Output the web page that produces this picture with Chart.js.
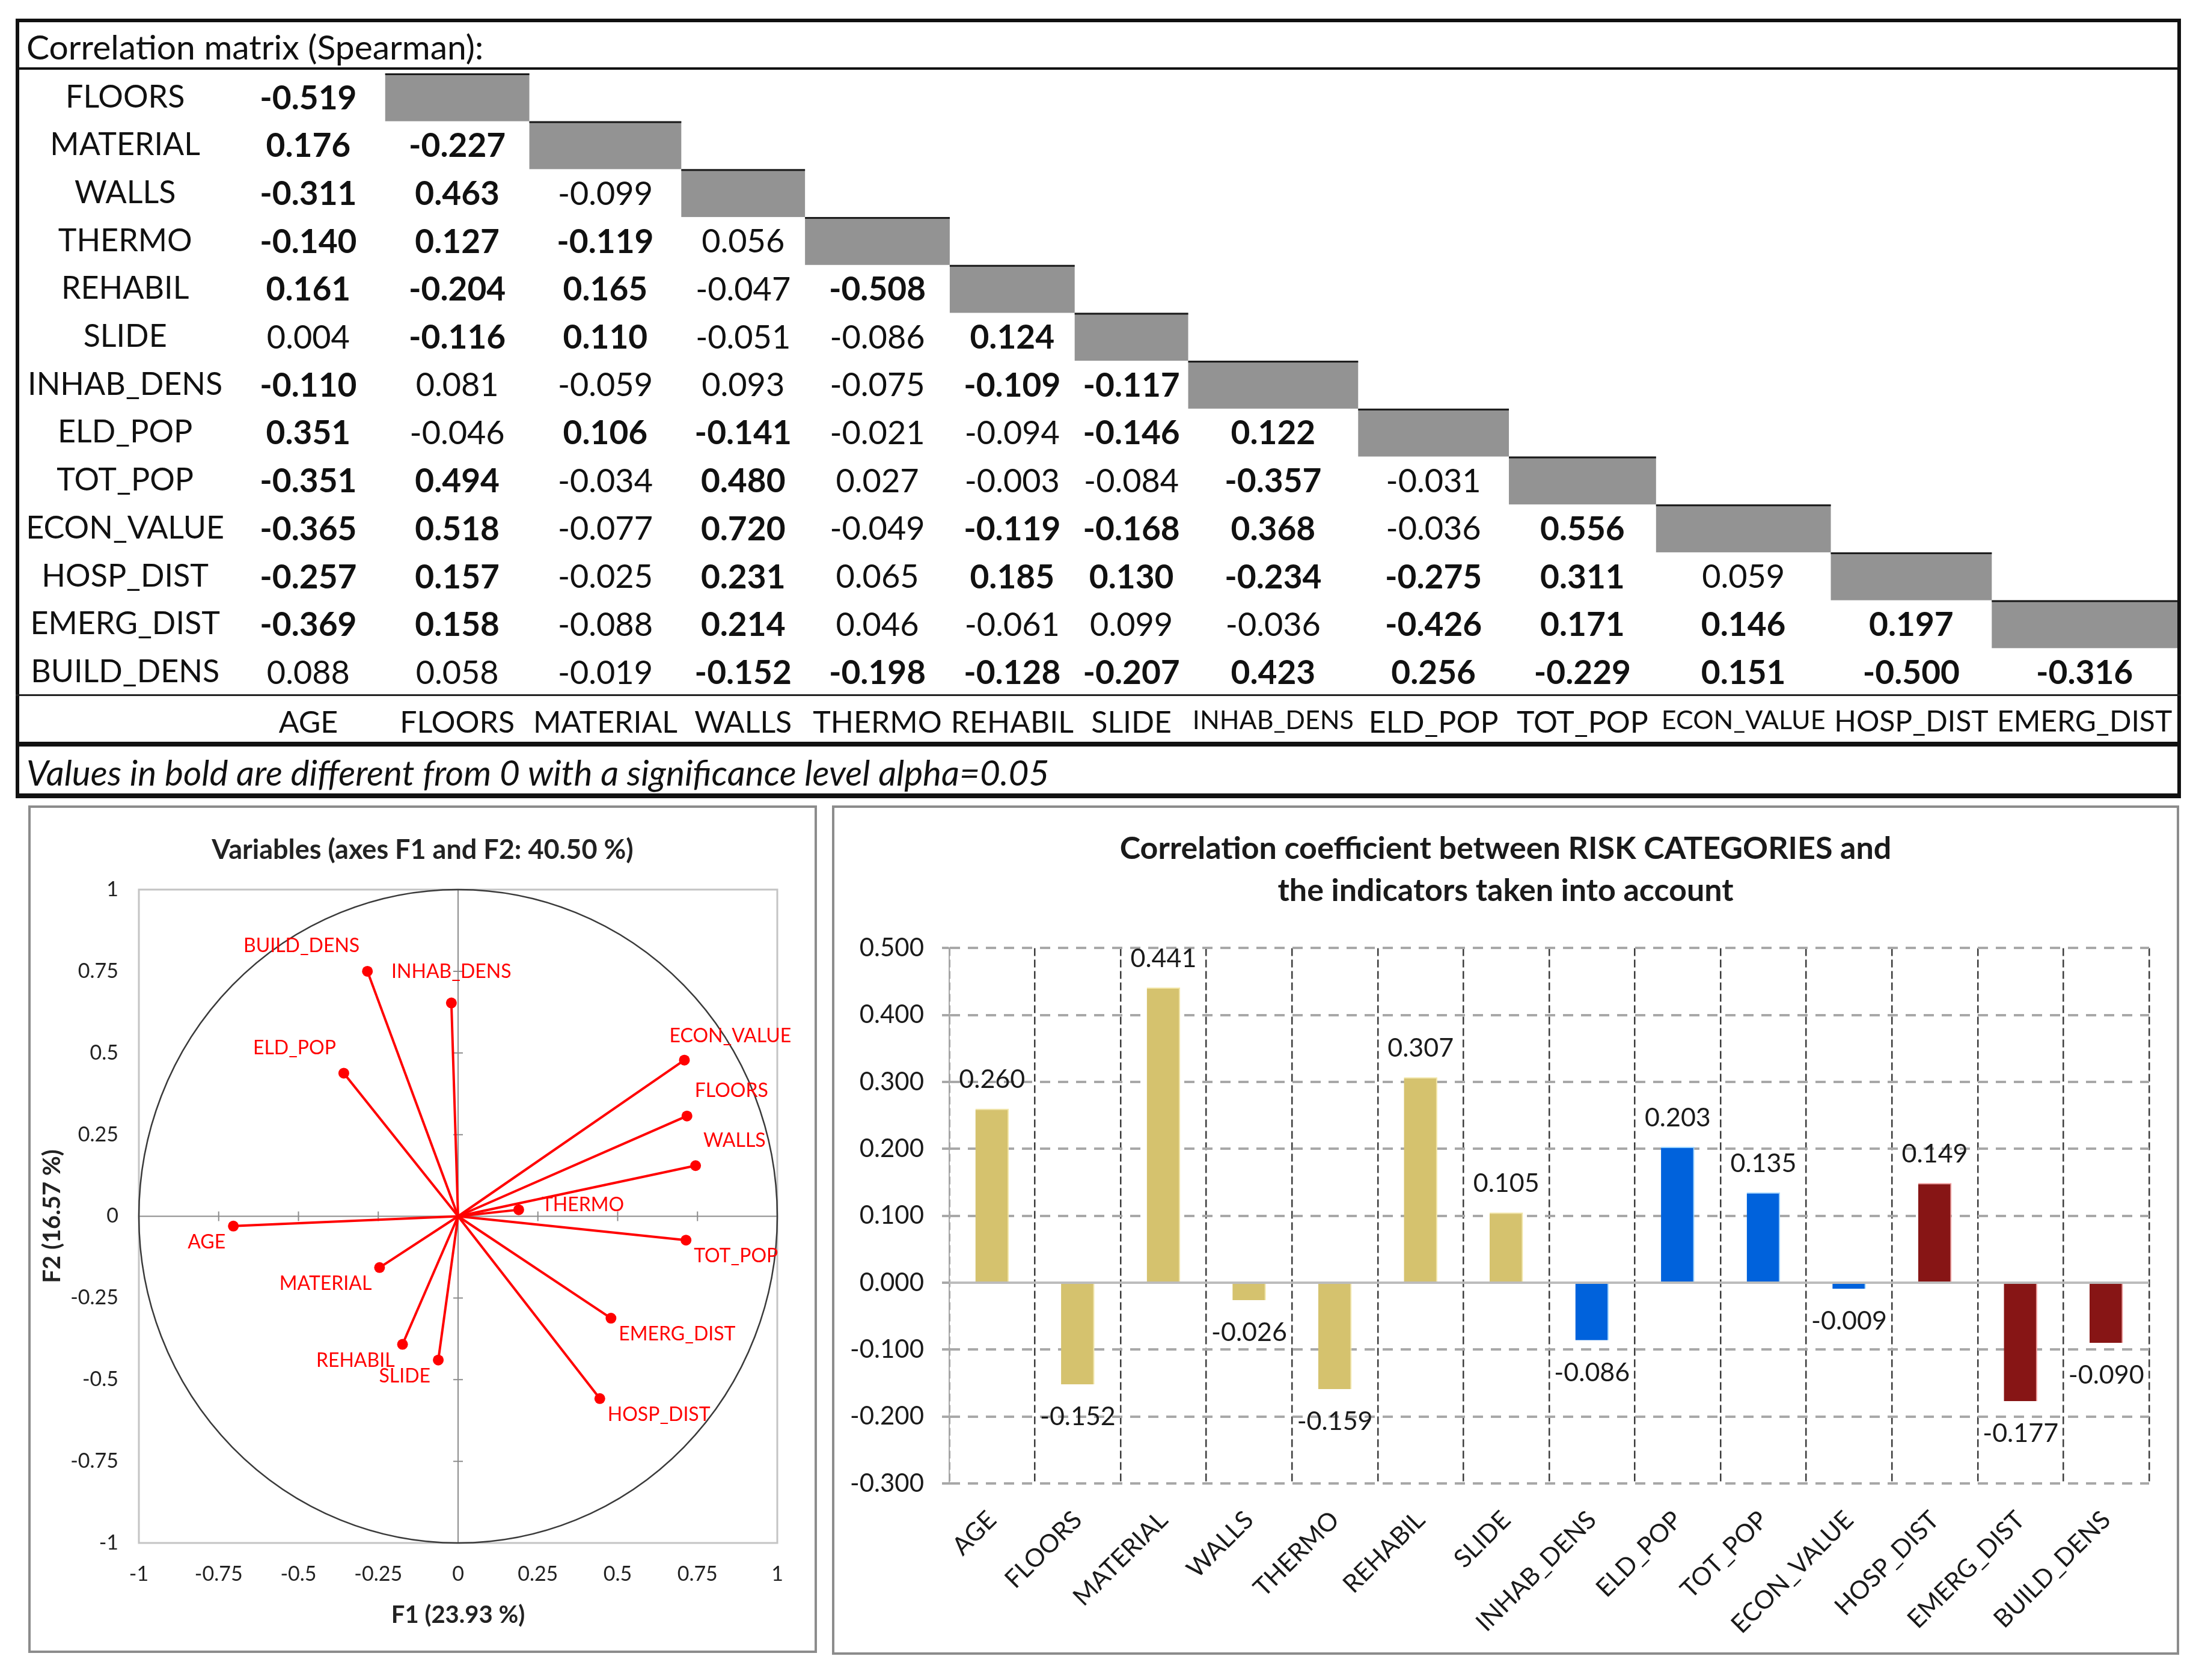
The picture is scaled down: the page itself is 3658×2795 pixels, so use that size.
<!DOCTYPE html>
<html>
<head>
<meta charset="utf-8">
<script src="https://cdn.jsdelivr.net/npm/chart.js@4.4.1/dist/chart.umd.min.js"></script>
<style>
  html, body { margin: 0; padding: 0; background: #fff; }
  body { width: 3658px; height: 2795px; position: relative; overflow: hidden;
         font-family: Lato, "Noto Sans", sans-serif; color: #111; }
  .box { position: absolute; box-sizing: border-box; }
  .bar { position: absolute; background: #111; }
  .txt { position: absolute; font-size: 57px; line-height: 64px; white-space: nowrap; }
  canvas { position: absolute; }
</style>
</head>
<body>

<div class="box" style="left:26px;top:31px;width:3602px;height:1297px;border:6px solid #111;border-bottom-width:8px;"></div>
<div class="bar" style="left:26px;top:112px;width:3602px;height:4px;"></div>
<div class="bar" style="left:26px;top:1155px;width:3602px;height:3px;background:#222;"></div>
<div class="bar" style="left:26px;top:1234px;width:3602px;height:8px;"></div>
<div class="txt" style="left:44px;top:45px;">Correlation matrix (Spearman):</div>
<div class="txt" style="left:44px;top:1252px;font-style:italic;font-size:58.5px;">Values in bold are different from 0 with a significance level alpha=0.05</div>

<div class="box" style="left:47px;top:1340px;width:1312px;height:1410px;border:4px solid #8c8c8c;"></div>
<div class="box" style="left:1384px;top:1340px;width:2241px;height:1413px;border:4px solid #8c8c8c;"></div>

<canvas id="matrix" width="3590" height="1112" style="left:32px;top:122px;"></canvas>
<canvas id="pca" width="1304" height="1402" style="left:51px;top:1344px;"></canvas>
<canvas id="risk" width="2233" height="1405" style="left:1388px;top:1344px;"></canvas>

<script>
// ---- data ----
const varNames = ['AGE', 'FLOORS', 'MATERIAL', 'WALLS', 'THERMO', 'REHABIL', 'SLIDE',
  'INHAB_DENS', 'ELD_POP', 'TOT_POP', 'ECON_VALUE', 'HOSP_DIST', 'EMERG_DIST', 'BUILD_DENS'];
const rowVars = varNames.slice(1);
const colVars = varNames.slice(0, 13);

// lower triangle of the Spearman matrix, one row per rowVars entry
const corrRows = [
  [-0.519],
  [0.176, -0.227],
  [-0.311, 0.463, -0.099],
  [-0.140, 0.127, -0.119, 0.056],
  [0.161, -0.204, 0.165, -0.047, -0.508],
  [0.004, -0.116, 0.110, -0.051, -0.086, 0.124],
  [-0.110, 0.081, -0.059, 0.093, -0.075, -0.109, -0.117],
  [0.351, -0.046, 0.106, -0.141, -0.021, -0.094, -0.146, 0.122],
  [-0.351, 0.494, -0.034, 0.480, 0.027, -0.003, -0.084, -0.357, -0.031],
  [-0.365, 0.518, -0.077, 0.720, -0.049, -0.119, -0.168, 0.368, -0.036, 0.556],
  [-0.257, 0.157, -0.025, 0.231, 0.065, 0.185, 0.130, -0.234, -0.275, 0.311, 0.059],
  [-0.369, 0.158, -0.088, 0.214, 0.046, -0.061, 0.099, -0.036, -0.426, 0.171, 0.146, 0.197],
  [0.088, 0.058, -0.019, -0.152, -0.198, -0.128, -0.207, 0.423, 0.256, -0.229, 0.151, -0.500, -0.316]
];
const sigCut = 0.1; // |r| above this is printed bold

// PCA loadings (F1, F2), same order as varNames
const f1Coords = [-0.704, 0.717, -0.246, 0.744, 0.190, -0.174, -0.062, -0.021, -0.358, 0.714, 0.709, 0.444, 0.479, -0.284];
const f2Coords = [-0.030, 0.307, -0.157, 0.155, 0.020, -0.392, -0.440, 0.653, 0.438, -0.073, 0.478, -0.558, -0.312, 0.750];

// correlation with RISK CATEGORIES, same order as varNames
const riskCorr = [0.260, -0.152, 0.441, -0.026, -0.159, 0.307, 0.105, -0.086, 0.203, 0.135, -0.009, 0.149, -0.177, -0.090];

// ---- style ----
const FONT = 'Lato, "Noto Sans", sans-serif';
const RED = '#ff0000';
const colWidths = [256, 240, 253, 206, 241, 208, 189, 283, 251, 245, 291, 268, 309];
const headSizes = { INHAB_DENS: 43, ECON_VALUE: 43, HOSP_DIST: 48, EMERG_DIST: 48 };
const labelAnchors = ['sw', 'ne', 'sw', 'ne', 'e', 'sw', 'sw', 'n', 'nw', 'se', 'nc', 'se', 'se', 'nw'];
const TAN = '#d5c26e', BLUE = '#0062dc', DRED = '#871515';
const barColors = [TAN, TAN, TAN, TAN, TAN, TAN, TAN, BLUE, BLUE, BLUE, BLUE, DRED, DRED, DRED];
const barEdges = ['#f2e6a6', '#f2e6a6', '#f2e6a6', '#f2e6a6', '#f2e6a6', '#f2e6a6', '#f2e6a6',
  '#9fd6ff', '#9fd6ff', '#9fd6ff', '#9fd6ff', '#f09a9a', '#f09a9a', '#f09a9a'];

Chart.defaults.font.family = FONT;
Chart.defaults.color = '#1a1a1a';

const baseOpts = {
  responsive: false,
  animation: false,
  devicePixelRatio: 1,
  events: []
};

// an empty axis used only as a right-hand margin, so titles stay centred on the panel
const marginAxis = w => ({
  type: 'linear', position: 'right',
  afterFit: s => { s.width = w; s.paddingTop = 0; s.paddingBottom = 0; },
  grid: { display: false, drawTicks: false },
  border: { display: false },
  ticks: { display: false }
});

// ---- correlation matrix ----
const colEdges = [0];
colWidths.forEach(w => colEdges.push(colEdges[colEdges.length - 1] + w));
const colCenters = colWidths.map((w, i) => colEdges[i] + w / 2);

const cellPoints = [];
corrRows.forEach((row, r) => {
  row.forEach((v, c) => cellPoints.push({ x: colCenters[c], y: rowVars[r], v: v }));
});

const matrixPlugin = {
  id: 'matrixCells',
  beforeDatasetsDraw(chart) {
    const { ctx, scales: { x, y } } = chart;
    const band = y.height / rowVars.length;
    ctx.save();
    rowVars.forEach((name, r) => {
      const yc = y.getPixelForValue(r);
      const x1 = x.getPixelForValue(colEdges[r + 1]);
      const x2 = x.getPixelForValue(colEdges[r + 2]);
      ctx.fillStyle = '#939393';
      ctx.fillRect(x1, yc - band / 2, x2 - x1, band);
      ctx.fillStyle = '#1a1a1a';
      ctx.fillRect(x1, yc - band / 2, x2 - x1, 3);
    });
    ctx.restore();
  },
  afterDatasetsDraw(chart) {
    const ctx = chart.ctx;
    const meta = chart.getDatasetMeta(0);
    ctx.save();
    ctx.textAlign = 'center';
    ctx.textBaseline = 'middle';
    ctx.fillStyle = '#111';
    meta.data.forEach((pt, i) => {
      const v = cellPoints[i].v;
      ctx.font = Math.abs(v) > sigCut ? 'bold 55px ' + FONT : '54px ' + FONT;
      ctx.fillText(v.toFixed(3), pt.x, pt.y + 2);
    });
    ctx.restore();
  }
};

new Chart(document.getElementById('matrix'), {
  type: 'scatter',
  data: { datasets: [{ data: cellPoints, pointRadius: 0 }] },
  options: {
    ...baseOpts,
    layout: { padding: 0 },
    plugins: { legend: { display: false }, tooltip: { enabled: false } },
    scales: {
      x: {
        type: 'linear', min: 0, max: colEdges[colEdges.length - 1],
        afterBuildTicks: s => { s.ticks = colCenters.map(v => ({ value: v })); },
        afterFit: s => { s.height = 76; s.paddingLeft = 0; s.paddingRight = 0; },
        grid: { display: false, drawTicks: false },
        border: { display: false },
        ticks: {
          autoSkip: false, maxRotation: 0, minRotation: 0, padding: 15, color: '#111',
          callback: (v, i) => colVars[i],
          font: c => ({ family: FONT, size: headSizes[colVars[c.index]] || 50 })
        }
      },
      y: {
        type: 'category', labels: rowVars, offset: true,
        afterFit: s => { s.width = 353; s.paddingTop = 0; s.paddingBottom = 0; },
        grid: { display: false, drawTicks: false },
        border: { display: false },
        ticks: { crossAlign: 'center', padding: 12, color: '#111', font: { size: 52 } }
      }
    }
  },
  plugins: [matrixPlugin]
});

// ---- PCA correlation circle ----
const pcaFrame = {
  id: 'pcaFrame',
  beforeDatasetsDraw(chart) {
    const { ctx, scales: { x, y } } = chart;
    const x0 = x.getPixelForValue(0), y0 = y.getPixelForValue(0);
    const L = x.getPixelForValue(-1), R = x.getPixelForValue(1);
    const T = y.getPixelForValue(1), B = y.getPixelForValue(-1);
    ctx.save();
    ctx.strokeStyle = '#c4c4c4';
    ctx.lineWidth = 3;
    ctx.strokeRect(L, T, R - L, B - T);
    ctx.strokeStyle = '#8c8c8c';
    ctx.lineWidth = 2;
    ctx.beginPath();
    ctx.moveTo(L, y0); ctx.lineTo(R, y0);
    ctx.moveTo(x0, T); ctx.lineTo(x0, B);
    x.ticks.forEach(t => {
      const px = x.getPixelForValue(t.value);
      ctx.moveTo(px, y0 - 8); ctx.lineTo(px, y0 + 8);
    });
    y.ticks.forEach(t => {
      const py = y.getPixelForValue(t.value);
      ctx.moveTo(x0 - 8, py); ctx.lineTo(x0 + 8, py);
    });
    ctx.stroke();
    ctx.strokeStyle = '#3a3a3a';
    ctx.lineWidth = 2.5;
    ctx.beginPath();
    ctx.ellipse(x0, y0, R - x0, y0 - T, 0, 0, Math.PI * 2);
    ctx.stroke();
    ctx.restore();
  },
  afterDatasetsDraw(chart) {
    const ctx = chart.ctx;
    ctx.save();
    ctx.font = '32px ' + FONT;
    ctx.fillStyle = RED;
    ctx.textBaseline = 'middle';
    varNames.forEach((name, i) => {
      const pt = chart.getDatasetMeta(i).data[1];
      let px = pt.x, py = pt.y, align = 'left';
      switch (labelAnchors[i]) {
        case 'ne': px += 13; py -= 42; break;
        case 'nw': px -= 13; py -= 42; align = 'right'; break;
        case 'se': px += 13; py += 27; break;
        case 'sw': px -= 13; py += 27; align = 'right'; break;
        case 'n': py -= 52; align = 'center'; break;
        case 'e': px += 38; py -= 8; break;
        case 'nc': px -= 25; py -= 40; break;
      }
      ctx.textAlign = align;
      ctx.fillText(name, px, py);
    });
    ctx.restore();
  }
};

const pcaDatasets = varNames.map((name, i) => ({
  label: name,
  data: [{ x: 0, y: 0 }, { x: f1Coords[i], y: f2Coords[i] }],
  showLine: true,
  borderColor: RED,
  borderWidth: 4,
  pointRadius: c => (c.dataIndex === 1 ? 9 : 0),
  pointBackgroundColor: RED,
  pointBorderWidth: 0
}));

const pcaTick = v => String(+Number(v).toFixed(2));

new Chart(document.getElementById('pca'), {
  type: 'scatter',
  data: { datasets: pcaDatasets },
  options: {
    ...baseOpts,
    layout: { padding: 0 },
    plugins: {
      legend: { display: false },
      tooltip: { enabled: false },
      title: {
        display: true, text: 'Variables (axes F1 and F2: 40.50 %)', color: '#222',
        font: { size: 45, weight: 'bold' }, padding: { top: 43, bottom: 39 }
      }
    },
    scales: {
      x: {
        type: 'linear', min: -1, max: 1,
        afterFit: s => { s.height = 179; },
        grid: { display: false, drawTicks: false },
        border: { display: false },
        ticks: { stepSize: 0.25, callback: pcaTick, padding: 32, color: '#222', font: { size: 34 } },
        title: { display: true, text: 'F1 (23.93 %)', color: '#222', font: { size: 40, weight: 'bold' }, padding: { top: 0, bottom: 35 } }
      },
      y: {
        type: 'linear', min: -1, max: 1,
        afterFit: s => { s.width = 180; },
        grid: { display: false, drawTicks: false },
        border: { display: false },
        ticks: { stepSize: 0.25, callback: pcaTick, padding: 34, color: '#222', font: { size: 34 } },
        title: { display: true, text: 'F2 (16.57 %)', color: '#222', font: { size: 40, weight: 'bold' }, padding: { top: 12, bottom: 0 } }
      },
      yR: marginAxis(62)
    }
  },
  plugins: [pcaFrame]
});

// ---- correlation with risk categories ----
const isZero = v => Math.abs(v) < 1e-9;

const riskPlugin = {
  id: 'riskExtras',
  afterDatasetsDraw(chart) {
    const { ctx, chartArea, scales: { y } } = chart;
    const y0 = y.getPixelForValue(0);
    ctx.save();
    ctx.strokeStyle = '#bcbcbc';
    ctx.lineWidth = 4;
    ctx.beginPath();
    ctx.moveTo(chartArea.left, y0);
    ctx.lineTo(chartArea.right, y0);
    ctx.stroke();

    const meta = chart.getDatasetMeta(0);
    ctx.font = '43px ' + FONT;
    ctx.fillStyle = '#1a1a1a';
    ctx.textAlign = 'center';
    ctx.textBaseline = 'middle';
    meta.data.forEach((bar, i) => {
      const v = riskCorr[i];
      ctx.fillText(v.toFixed(3), bar.x, v >= 0 ? bar.y - 48 : bar.y + 54);
    });
    ctx.restore();
  }
};

new Chart(document.getElementById('risk'), {
  type: 'bar',
  data: {
    labels: varNames,
    datasets: [{
      data: riskCorr, backgroundColor: barColors, borderColor: barEdges,
      borderWidth: { top: 2, right: 2, bottom: 0, left: 0 },
      barPercentage: 0.39, categoryPercentage: 1
    }]
  },
  options: {
    ...baseOpts,
    layout: { padding: 0 },
    plugins: {
      legend: { display: false },
      tooltip: { enabled: false },
      title: {
        display: true,
        text: ['Correlation coefficient between RISK CATEGORIES and', 'the indicators taken into account'],
        color: '#1a1a1a',
        font: { size: 52, weight: 'bold', lineHeight: 1.35 },
        padding: { top: 33, bottom: 60 }
      }
    },
    scales: {
      x: {
        afterFit: s => { s.height = 281; },
        grid: { color: '#3c3c3c', lineWidth: 2.5, drawTicks: false, offset: true },
        border: { display: false, dash: [13, 6] },
        ticks: { autoSkip: false, minRotation: 45, maxRotation: 45, padding: 36, color: '#1a1a1a', font: { size: 42 } }
      },
      y: {
        min: -0.3, max: 0.5,
        afterFit: s => { s.width = 191; },
        grid: {
          color: c => (c.tick && isZero(c.tick.value) ? 'rgba(0,0,0,0)' : '#a8a8a8'),
          lineWidth: 4, tickLength: 12, tickColor: '#a8a8a8'
        },
        border: { display: true, color: '#a8a8a8', width: 2, dash: [17, 13] },
        ticks: {
          stepSize: 0.1, padding: 30, color: '#1a1a1a', font: { size: 42 },
          callback: v => (isZero(v) ? '0.000' : Number(v).toFixed(3))
        }
      },
      yR: marginAxis(46)
    }
  },
  plugins: [riskPlugin]
});
</script>
</body>
</html>
